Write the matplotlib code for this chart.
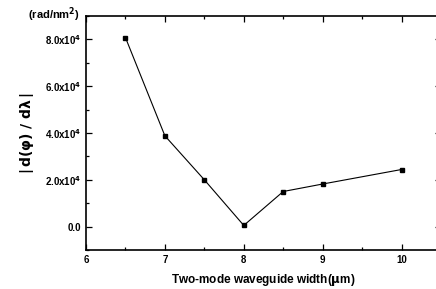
import matplotlib
matplotlib.use("Agg")
import matplotlib.pyplot as plt
from matplotlib.ticker import MultipleLocator, FixedLocator

width_um = [6.5, 7.0, 7.5, 8.0, 8.5, 9.0, 10.0]
dphi = [8.08, 3.88, 2.0, 0.05, 1.5, 1.82, 2.44]
ytick_vals = [0, 2, 4, 6, 8]
ytick_labels = ["0.0", r"2.0x10$^{4}$", r"4.0x10$^{4}$", r"6.0x10$^{4}$", r"8.0x10$^{4}$"]

plt.rcParams['font.family'] = ['Liberation Sans', 'DejaVu Sans']
plt.rcParams['font.weight'] = 'bold'
plt.rcParams['mathtext.default'] = 'bf'

fig = plt.figure(figsize=(4.36, 2.89), dpi=100)
ax = fig.add_axes([86/436, 39/289, 355/436, 234/289])
ax.plot(width_um, dphi, color='black', lw=0.8, marker='s', ms=3.5, mfc='black', mec='black')
ax.set_xlim(6, 10.5)
ax.set_ylim(-1, 9)
ax.xaxis.set_major_locator(FixedLocator([6, 7, 8, 9, 10]))
ax.xaxis.set_minor_locator(MultipleLocator(0.5))
ax.set_yticks(ytick_vals)
ax.set_yticklabels(ytick_labels)
ax.yaxis.set_minor_locator(MultipleLocator(1))
ax.tick_params(which='both', direction='in', top=True, right=True, labelsize=7, width=0.9)
ax.tick_params(which='major', length=4)
ax.tick_params(which='minor', length=2)
for s in ax.spines.values():
    s.set_linewidth(1.2)
for lab in ax.get_xticklabels() + ax.get_yticklabels():
    lab.set_fontweight('bold')
ax.set_xlabel(r"Two-mode waveguide width($\mu$m)", fontsize=8.5, fontweight='bold', labelpad=5)
ax.set_ylabel(r"$\left|\,\mathbf{d}(\varphi)\ /\ \mathbf{d}\lambda\,\right|$", fontsize=10, labelpad=6)
fig.text(54/436, 1 - 15/289, r"(rad/nm$^2$)", fontsize=8, fontweight='bold', ha='center', va='center')
fig.savefig("out.png", dpi=100)
